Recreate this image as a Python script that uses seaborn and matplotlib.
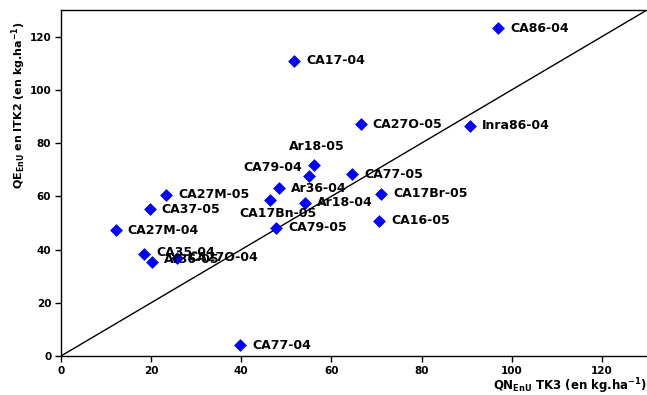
import matplotlib
matplotlib.use("Agg")
import matplotlib.pyplot as plt
import seaborn as sns
import pandas as pd

# Data
names = ["CA86-04", "CA17-04", "CA27O-05", "Inra86-04", "Ar18-05", "CA79-04",
         "CA77-05", "Ar36-04", "CA27M-05", "CA17Br-05", "CA17Bn-05", "Ar18-04",
         "CA37-05", "CA16-05", "CA79-05", "CA27M-04", "CA35-04", "CA27O-04",
         "Ar36-05", "CA77-04"]
qn_tk3 = [97.0, 51.7, 66.5, 90.7, 56.1, 55.0,
          64.6, 48.4, 23.4, 71.0, 46.3, 54.1,
          19.7, 70.6, 47.7, 12.1, 18.4, 25.7,
          20.2, 39.8]
qe_itk2 = [123.2, 110.9, 87.0, 86.5, 71.6, 67.8,
           68.2, 63.1, 60.6, 61.0, 58.8, 57.6,
           55.2, 50.8, 48.2, 47.2, 38.5, 37.0,
           35.4, 4.1]
ticks = [0, 20, 40, 60, 80, 100, 120]

# label placement (pixel offsets, alignment) -- style only
default_lab = (12, 0, "left", "center")
special_lab = {
    "Ar18-05": (3, 19, "center", "center"),
    "CA79-04": (-7, 8, "right", "center"),
    "CA17Bn-05": (8, -14, "center", "center"),
    "CA35-04": (12, 1, "left", "center"),
    "Ar36-05": (12, 2, "left", "center"),
}

df = pd.DataFrame({"name": names, "x": qn_tk3, "y": qe_itk2})

sns.set_style("ticks")
plt.rcParams["font.family"] = ["DejaVu Sans"]
plt.rcParams["text.color"] = "black"
plt.rcParams["axes.labelcolor"] = "black"
plt.rcParams["xtick.color"] = "black"
plt.rcParams["ytick.color"] = "black"

fig = plt.figure(figsize=(6.47, 3.95), dpi=100)
ax = fig.add_axes([61 / 647, 39 / 395, 586 / 647, 346 / 395])

# 1:1 line
ax.plot([0, 130], [0, 130], color="black", lw=1.0, zorder=1)

sns.scatterplot(data=df, x="x", y="y", ax=ax, marker="D", s=36,
                color="#0000FF", edgecolor="#0000FF", linewidth=0.5, zorder=3,
                legend=False)

for n, xv, yv in zip(names, qn_tk3, qe_itk2):
    dx, dy, ha, va = special_lab.get(n, default_lab)
    ax.annotate(n, (xv, yv), xytext=(dx, dy), textcoords="offset pixels",
                ha=ha, va=va, fontsize=9, fontweight="bold", color="black",
                zorder=4)

ax.set_xlim(0, 130)
ax.set_ylim(0, 130)
ax.set_xticks(ticks)
ax.set_yticks(ticks)
ax.tick_params(axis="both", direction="out", length=4, width=1,
               labelsize=7.5, color="black", labelcolor="black", pad=3)
for lab in ax.get_xticklabels() + ax.get_yticklabels():
    lab.set_fontweight("bold")

for s in ["left", "bottom", "top"]:
    ax.spines[s].set_visible(True)
    ax.spines[s].set_color("black")
    ax.spines[s].set_linewidth(1.0)
ax.spines["right"].set_visible(False)

ax.set_ylabel(r"QE$_{\mathbf{EnU}}$ en ITK2 (en kg.ha$^{\mathbf{-1}}$)",
              fontsize=8, fontweight="bold", va="center", ha="center",
              color="black")
ax.yaxis.set_label_coords(-0.0717, 0.725)

ax.set_xlabel(r"QN$_{\mathbf{EnU}}$ TK3 (en kg.ha$^{\mathbf{-1}}$)",
              fontsize=8.5, fontweight="bold", ha="left", va="center",
              color="black")
ax.xaxis.set_label_coords(0.737, -0.0867)

fig.savefig("out.png", dpi=100)
